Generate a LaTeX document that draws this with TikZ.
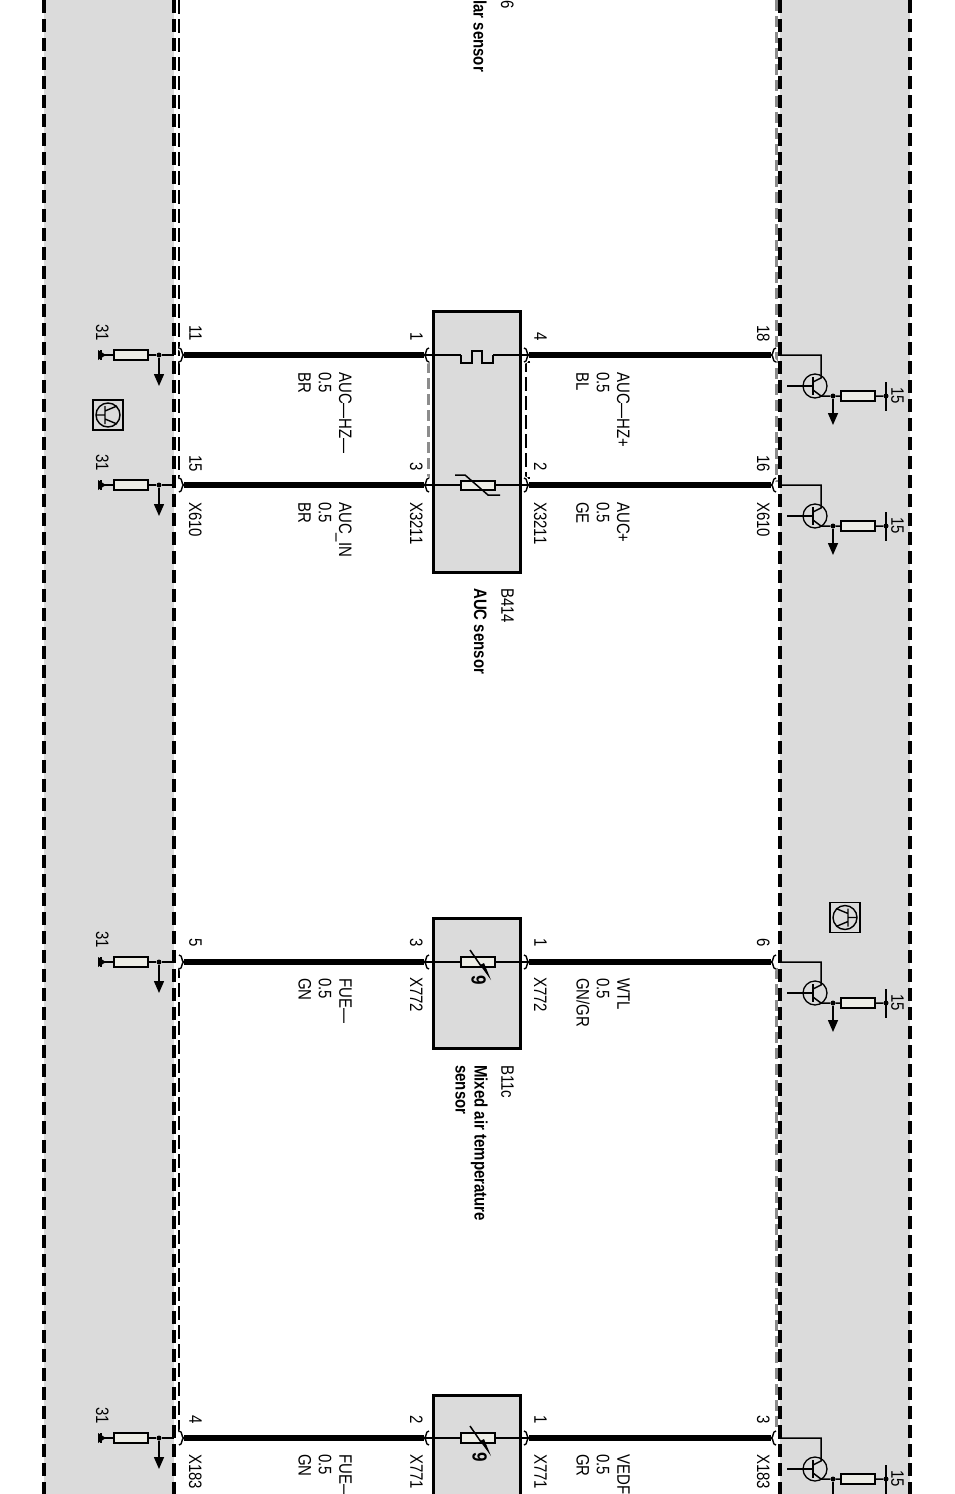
\documentclass[tikz,border=0pt]{standalone}
\usepackage{fontspec}
\setmainfont{Liberation Sans}
\usetikzlibrary{calc}
\usetikzlibrary{positioning}
\usetikzlibrary{arrows.meta}

\definecolor{bandgray}{HTML}{DBDBDB}
\definecolor{dashgray}{HTML}{8C8C8C}
\definecolor{rescol}{HTML}{EDEDE6}

% connector pin, #4 = side the nose points to
\newcommand{\pinmark}[4]{
\coordinate (#1) at (#2,#3);
\begin{scope}[shift={(#2,#3)},xscale=#4]
\draw[white,line width=4pt] (-5,-7) .. controls (-1,-7) and (-3,0) .. (0,0) .. controls (-3,0) and (-1,7) .. (-5,7);
\draw[line width=1.4pt] (-5,-7) .. controls (-1,-7) and (-3,0) .. (0,0) .. controls (-3,0) and (-1,7) .. (-5,7);
\end{scope}
}

% low side: resistor to 31, arrow down
\newcommand{\lowstage}[2]{
\node[res] (#1r) at (131,#2) {};
\node[dot] (#1d) at (159,#2) {};
\coordinate (#1e) at (174,#2);
\coordinate (#1g) at (101,#2);
\coordinate (#1a) at (159,#2+31);
\draw[thinw] (#1e) -- (#1d) -- (#1r) -- (#1g);
\draw[thinw,line width=2.5pt] ($(#1g)+(0,-5)$) -- ($(#1g)+(0,5)$);
\fill ($(#1g)+(-3,-5)$) -- ($(#1g)+(5,0)$) -- ($(#1g)+(-3,5)$) -- cycle;
\draw[thinw,-{Triangle[length=12pt,width=10pt]}] (#1d) -- (#1a);
\node[lbl] at (109,#2-31) {31};
}

% high side: transistor and resistor to 15
\newcommand{\highstage}[2]{
\coordinate (#1e) at (778,#2);
\coordinate (#1k) at (821,#2);
\coordinate (#1c) at (821,#2+23);
\coordinate (#1q) at (815,#2+31);
\coordinate (#1o) at (821,#2+41);
\node[dot] (#1d) at (833,#2+41) {};
\node[res] (#1r) at (858,#2+41) {};
\node[dot] (#1b) at (886,#2+41) {};
\coordinate (#1a) at (833,#2+70);
\draw[thinw] (#1e) -- (#1k) -- (#1c) -- (813,#2+27);
\draw[thinw] (787,#2+31) -- (813,#2+31);
\draw[thinw] (813,#2+22) -- (813,#2+40);
\draw[thinw] (813,#2+35) -- (#1o) -- (#1d) -- (#1r) -- (#1b);
\draw[line width=1.3pt] (#1q) circle (12);
\draw[thinw] (886,#2+27) -- (886,#2+56);
\draw[thinw,-{Triangle[length=12pt,width=10pt]}] (#1d) -- (#1a);
\node[lbl] at (904,#2+32) {15};
}

% board symbol in a square
\newcommand{\boardmark}[4]{
\node[draw,line width=1.8pt,minimum size=#4,inner sep=0,fill=bandgray] (#1) at (#2,#3) {};
\begin{scope}[shift={(#1)}]
\draw[line width=1.4pt] (0,0) circle (12);
\draw[line width=1.4pt] (-12,0) -- (-3,0) (-3,-9) -- (-3,9) (-3,-4) -- (9,-9) (-3,4) -- (9,9);
\end{scope}
}

\begin{document}
\begin{tikzpicture}[x=1pt,y=-1pt]
\tikzstyle{lbl}=[font=\fontsize{15}{17}\selectfont,xscale=1.2,rotate=-90,anchor=north west,inner sep=0pt,align=left]
\tikzstyle{compname}=[lbl,font=\fontsize{15}{16}\selectfont\bfseries]
\tikzstyle{band}=[line width=3.4pt,dash pattern=on 13pt off 6pt]
\tikzstyle{thinw}=[line width=1.5pt]
\tikzstyle{thickw}=[line width=5.5pt]
\tikzstyle{innerd}=[line width=1.2pt,dash pattern=on 14pt off 5pt]
\tikzstyle{innerg}=[line width=3pt,color=dashgray,dash pattern=on 11pt off 5pt]
\tikzstyle{res}=[rectangle,draw,fill=rescol,line width=1.4pt,minimum width=34pt,minimum height=10pt,inner sep=0pt]
\tikzstyle{dot}=[circle,fill,inner sep=0pt,minimum size=5pt]
\tikzstyle{sensor}=[line width=3pt,fill=bandgray]
\useasboundingbox (0,0) rectangle (955,1494);

% shaded bands
\fill[bandgray] (44,0) rectangle (174,1494);
\fill[bandgray] (780,0) rectangle (910,1494);

% inner dashed returns
\draw[innerd] (179,0) -- (179,479) -- (183,479);
\draw[innerd] (183,968) -- (179,968) -- (179,1432) -- (183,1432);
\draw[innerg] (776,0) -- (776,482);
\draw[innerg] (776,968) -- (776,1432);
\draw[innerg] (428,362) -- (428,478);
\draw[innerd] (530,362) -- (526,362) -- (526,478) -- (530,478);

\foreach \x in {44,174,780,910}
  \draw[band] (\x,0) -- (\x,1494);

% sensors
\node[rectangle,draw,sensor,minimum width=87pt,minimum height=261pt,inner sep=0pt] (auc) at (476.5,441.5) {};
\node[rectangle,draw,sensor,minimum width=87pt,minimum height=130pt,inner sep=0pt] (mix) at (476.5,983) {};
\fill[bandgray] (433,1395) rectangle (520,1494);
\draw[line width=3pt] (433,1494) -- (433,1395) -- (520,1395) -- (520,1494);

% wires
\foreach \n/\y in {a/355,b/485,c/962,d/1438} {
  \pinmark{\n1}{184}{\y}{1}
  \pinmark{\n2}{424}{\y}{-1}
  \pinmark{\n3}{529}{\y}{1}
  \pinmark{\n4}{771}{\y}{-1}
  \draw[thickw] (\n1) -- (\n2);
  \draw[thickw] (\n3) -- (\n4);
  \draw[thinw] (\n2) -- (\n3);
  \lowstage{\n l}{\y}
  \highstage{\n h}{\y}
}

% sensor elements
\fill[bandgray] (461,352) rectangle (493,358);
\draw[thinw] (461,355) -- (461,363) -- (472,363) -- (472,351) -- (482,351) -- (482,363) -- (493,363) -- (493,355);
\node[res,minimum height=9pt] (ntc) at (478,485.5) {};
\draw[thinw] (455,475) -- (465,475) -- (488,495) -- (500,495);
\node[res] (mixr) at (478,962) {};
\draw[thinw] (470,950) -- (481,966);
\fill (480,965) -- (484,963) -- (491,980) -- cycle;
\node[lbl,font=\fontsize{17}{18}\selectfont\bfseries] at (486,975) {9};
\node[res] (vedr) at (478,1438) {};
\draw[thinw] (470,1426) -- (481,1442);
\fill (480,1441) -- (484,1439) -- (491,1456) -- cycle;
\node[lbl,font=\fontsize{17}{18}\selectfont\bfseries] at (487,1452) {9};

\boardmark{ma}{108}{415}{30pt}
\begin{scope}[xscale=-1,shift={(-1690,0)}]
\boardmark{mb}{845}{917.5}{30pt}
\end{scope}

% pin numbers
\node[lbl] at (202,325) {11};
\node[lbl] at (202,455) {15};
\node[lbl] at (202,938) {5};
\node[lbl] at (202,1415) {4};
\node[lbl] at (423,332) {1};
\node[lbl] at (423,462) {3};
\node[lbl] at (423,938) {3};
\node[lbl] at (423,1415) {2};
\node[lbl] at (547,332) {4};
\node[lbl] at (547,462) {2};
\node[lbl] at (547,938) {1};
\node[lbl] at (547,1415) {1};
\node[lbl] at (770,325) {18};
\node[lbl] at (770,455) {16};
\node[lbl] at (770,938) {6};
\node[lbl] at (770,1415) {3};

% connector names
\node[lbl] at (202,502) {X610};
\node[lbl] at (423,502) {X3211};
\node[lbl] at (547,502) {X3211};
\node[lbl] at (770,502) {X610};
\node[lbl] at (423,977) {X772};
\node[lbl] at (547,977) {X772};
\node[lbl] at (202,1454) {X183};
\node[lbl] at (423,1454) {X771};
\node[lbl] at (547,1454) {X771};
\node[lbl] at (770,1454) {X183};

% wire names
\node[lbl] at (352,372) {AUC---HZ---\\0.5\\BR};
\node[lbl] at (630,372) {AUC---HZ+\\0.5\\BL};
\node[lbl] at (352,502) {AUC\_IN\\0.5\\BR};
\node[lbl] at (630,502) {AUC+\\0.5\\GE};
\node[lbl] at (352,978) {FUE---\\0.5\\GN};
\node[lbl] at (630,978) {WTL\\0.5\\GN/GR};
\node[lbl] at (352,1454) {FUE---\\0.5\\GN};
\node[lbl] at (630,1454) {VEDF\\0.5\\GR};

% component names
\node[lbl] at (514,0) {6};
\node[compname] at (487,0) {lar sensor};
\node[lbl] at (514,588) {B414};
\node[compname] at (487,588) {AUC sensor};
\node[lbl] at (514,1065) {B11c};
\node[compname] at (488,1065) {Mixed air temperature\\sensor};
\end{tikzpicture}
\end{document}
